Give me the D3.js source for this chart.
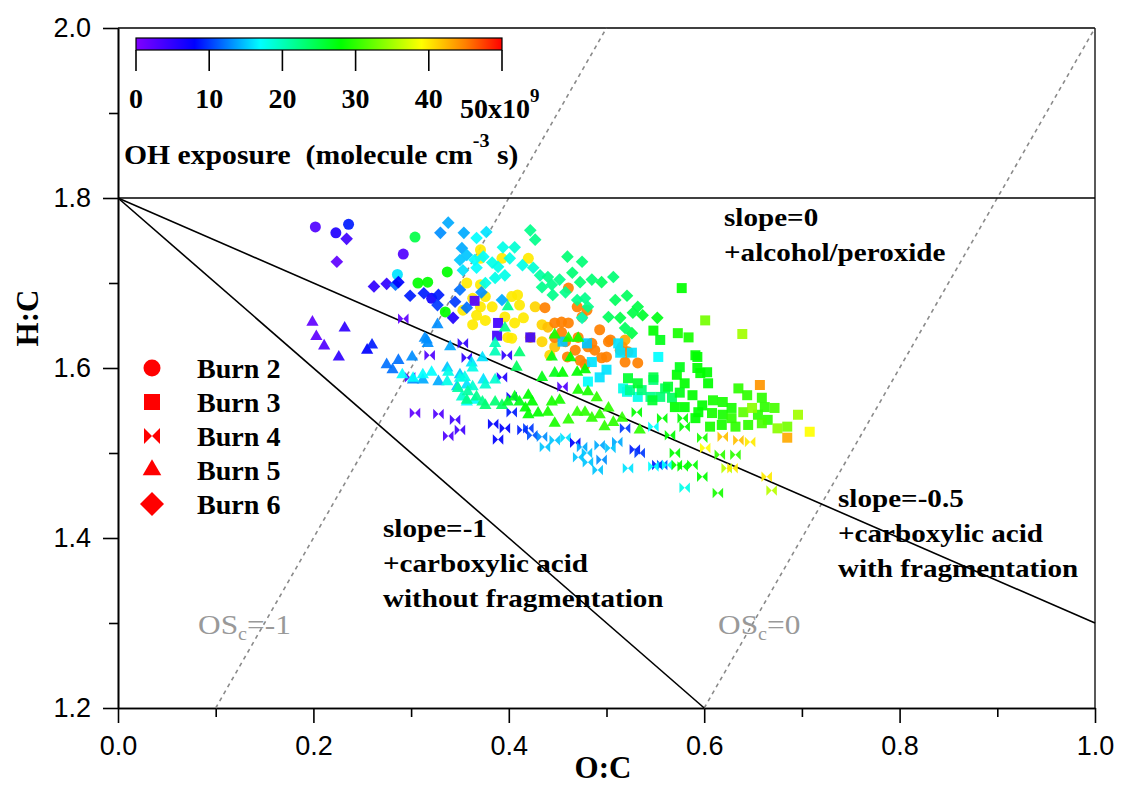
<!DOCTYPE html>
<html>
<head>
<meta charset="utf-8">
<script src="https://cdn.jsdelivr.net/npm/d3@7"></script>
<style>
body { margin: 0; background: #fff; }
text { font-family: "Liberation Serif", "Times New Roman", serif; }
.axis text { font-family: "Liberation Sans", Arial, sans-serif; font-size: 27px; fill: #000; }
.axis path, .axis line { stroke: #000; stroke-width: 1.6px; }
</style>
</head>
<body>
<svg id="chart" width="1123" height="787"></svg>
<script>
// axis ticks
const ocTicks = [0, 0.2, 0.4, 0.6, 0.8, 1.0]
const ocMinor = [0.1, 0.3, 0.5, 0.7, 0.9]
const hcTicks = [1.2, 1.4, 1.6, 1.8, 2.0]
const hcMinor = [1.3, 1.5, 1.7, 1.9]

// colour bar (OH exposure, 1e9 molecule cm-3 s)
const ohTicks = [0, 10, 20, 30, 40]
const ohStops = [0, 8, 17, 28, 39, 45, 50]
const ohColors = ["#8000ff", "#0000ff", "#00ffff", "#00ff00", "#ffff00", "#ff8000", "#ff0000"]

const burnNames = ["Burn 2", "Burn 3", "Burn 4", "Burn 5", "Burn 6"]

// [O:C, H:C, OH exposure]
const burn2 = [
  [0.202,1.766,3],[0.223,1.759,6],[0.236,1.769,9],[0.292,1.734,3],[0.304,1.754,25],[0.286,1.710,16],
  [0.307,1.700,28],[0.317,1.701,28],[0.337,1.713,28],[0.335,1.666,28],[0.321,1.682,7],
  [0.371,1.739,40],[0.371,1.729,40],[0.393,1.729,40],[0.420,1.729,40],[0.357,1.700,40],[0.371,1.698,40],
  [0.363,1.682,40],[0.376,1.684,40],[0.371,1.672,40],[0.367,1.662,40],[0.363,1.651,40],[0.376,1.656,40],
  [0.403,1.684,40],[0.411,1.674,40],[0.396,1.660,40],[0.406,1.653,40],[0.427,1.672,41],[0.434,1.651,41],
  [0.415,1.659,40],[0.399,1.636,40],[0.403,1.635,40],[0.422,1.636,41],[0.434,1.631,41],[0.383,1.672,40],
  [0.409,1.686,40],[0.353,1.668,40],[0.440,1.648,42],[0.447,1.625,42],[0.442,1.615,41],
  [0.437,1.671,45],[0.447,1.653,45],[0.454,1.654,45],[0.461,1.653,45],[0.475,1.660,45],[0.480,1.668,45],
  [0.470,1.672,45],[0.454,1.642,45],[0.447,1.636,45],[0.458,1.631,45],[0.471,1.636,45],[0.468,1.621,45],
  [0.481,1.625,45],[0.461,1.694,45],[0.460,1.613,45],[0.493,1.645,45],[0.502,1.631,45],[0.488,1.621,45],
  [0.495,1.612,45],[0.519,1.633,43],[0.516,1.625,44],[0.519,1.607,45],[0.532,1.606,45],[0.504,1.633,45],
  [0.514,1.621,45],[0.500,1.613,45],[0.522,1.619,45],[0.485,1.629,45],[0.473,1.609,45],[0.478,1.604,45]
]
const burn3 = [
  [0.365,1.679,3],[0.389,1.653,4],[0.388,1.638,4],[0.422,1.636,4],
  [0.455,1.631,15],[0.480,1.629,15],[0.512,1.629,16],[0.526,1.618,16],[0.553,1.613,17],[0.493,1.589,16],
  [0.500,1.598,16],[0.521,1.572,18],[0.532,1.566,18],[0.485,1.607,16],[0.481,1.584,17],[0.517,1.576,18],
  [0.514,1.618,16],
  [0.524,1.574,22],[0.536,1.574,23],[0.548,1.586,23],[0.555,1.566,23],[0.545,1.566,22],[0.560,1.576,24],
  [0.567,1.565,24],[0.522,1.588,26],[0.532,1.582,26],
  [0.577,1.694,28],[0.548,1.644,28],[0.573,1.641,29],[0.584,1.636,29],[0.591,1.615,28],[0.572,1.592,28],
  [0.580,1.582,28],[0.575,1.571,27],[0.593,1.600,28],[0.603,1.595,28],[0.604,1.582,28],[0.588,1.568,28],
  [0.570,1.554,28],[0.580,1.554,28],[0.598,1.556,28],[0.609,1.562,29],[0.619,1.560,29],[0.628,1.553,29],
  [0.635,1.576,30],[0.644,1.568,30],[0.659,1.565,30],[0.662,1.554,30],[0.672,1.553,31],[0.608,1.547,29],
  [0.619,1.545,29],[0.628,1.541,30],[0.640,1.548,32],[0.655,1.545,30],[0.665,1.539,30],[0.659,1.535,31],
  [0.645,1.533,30],[0.632,1.531,30],[0.618,1.533,29],[0.606,1.531,29],[0.591,1.541,28],[0.594,1.548,28],
  [0.547,1.562,26],[0.555,1.633,27],[0.593,1.613,28],[0.596,1.594,28],[0.575,1.601,27],[0.563,1.578,26],
  [0.548,1.589,25],
  [0.601,1.656,33],[0.639,1.640,35],[0.696,1.545,35],[0.649,1.553,34],[0.675,1.529,34],[0.685,1.531,33],
  [0.657,1.580,44],[0.685,1.518,43],[0.708,1.525,39]
]
const burn4 = [
  [0.292,1.658,2],[0.299,1.589,3],[0.304,1.547,2],[0.328,1.546,3],[0.345,1.539,4],[0.350,1.527,4],
  [0.338,1.520,3],[0.319,1.615,3],
  [0.353,1.629,5],[0.357,1.612,5],[0.398,1.615,5],[0.393,1.589,6],[0.384,1.534,8],[0.396,1.529,8],
  [0.403,1.548,9],[0.389,1.516,8],[0.414,1.527,9],[0.420,1.529,10],[0.424,1.521,11],[0.434,1.519,13],
  [0.437,1.507,15],[0.447,1.515,15],[0.458,1.518,16],[0.468,1.512,8],[0.475,1.507,14],[0.471,1.495,15],
  [0.481,1.489,15],[0.480,1.500,15],[0.455,1.578,3],[0.403,1.566,7],
  [0.519,1.529,10],[0.548,1.531,17],[0.529,1.504,9],[0.534,1.500,10],[0.552,1.486,9],[0.557,1.486,11],
  [0.562,1.486,17],[0.522,1.482,16],[0.511,1.513,14],[0.504,1.506,15],[0.493,1.509,14],[0.495,1.492,13],
  [0.491,1.480,15],[0.548,1.484,17],[0.580,1.459,18],
  [0.531,1.548,28],[0.557,1.541,28],[0.578,1.541,28],[0.580,1.531,28],[0.565,1.521,28],[0.598,1.518,29],
  [0.570,1.500,28],[0.572,1.486,28],[0.578,1.484,28],[0.588,1.486,28],[0.598,1.472,28],[0.616,1.498,30],
  [0.632,1.498,30],[0.614,1.453,29],
  [0.619,1.519,42],[0.635,1.515,42],[0.647,1.513,40],[0.601,1.506,39],[0.623,1.482,36],[0.629,1.482,40],
  [0.664,1.472,40],[0.669,1.456,36]
]
const burn5 = [
  [0.199,1.654,2],[0.232,1.647,5],[0.203,1.637,2],[0.211,1.626,3],[0.226,1.613,5],[0.255,1.621,8],[0.260,1.627,9],
  [0.275,1.604,12],[0.281,1.598,12],[0.287,1.609,12],[0.301,1.613,13],[0.302,1.586,13],[0.312,1.586,14],
  [0.316,1.633,13],[0.327,1.651,13],[0.328,1.584,14],[0.337,1.600,15],[0.340,1.625,14],[0.350,1.592,15],
  [0.347,1.578,15],[0.357,1.580,16],[0.362,1.606,16],[0.373,1.612,16],[0.374,1.586,16],[0.365,1.562,17],
  [0.357,1.560,17],[0.314,1.635,13],[0.317,1.629,13],
  [0.291,1.592,17],[0.302,1.588,17],[0.312,1.592,17],[0.321,1.595,17],[0.338,1.595,18],[0.337,1.584,18],
  [0.350,1.588,18],[0.355,1.589,18],[0.363,1.600,18],[0.352,1.566,19],[0.363,1.578,19],[0.376,1.580,19],
  [0.386,1.586,19],[0.386,1.629,20],[0.386,1.619,20],
  [0.348,1.576,21],[0.358,1.572,21],[0.357,1.562,22],[0.367,1.566,22],[0.373,1.560,22],[0.376,1.556,23],
  [0.386,1.560,23],[0.393,1.556,24],[0.396,1.647,22],[0.399,1.672,22],[0.411,1.618,23],[0.408,1.601,24],
  [0.399,1.560,26],[0.406,1.566,27],[0.411,1.560,27],[0.420,1.568,28],[0.424,1.560,28],[0.417,1.553,28],
  [0.420,1.545,28],[0.430,1.547,28],[0.440,1.548,29],[0.444,1.560,29],[0.452,1.562,29],[0.447,1.535,29],
  [0.461,1.539,30],[0.470,1.548,30],[0.478,1.548,30],[0.485,1.541,30],[0.434,1.589,27],[0.447,1.594,27],
  [0.455,1.594,28],[0.470,1.595,28],[0.478,1.598,28],[0.471,1.574,29],[0.481,1.572,29],[0.447,1.639,29],
  [0.461,1.635,29],[0.471,1.635,29],[0.444,1.613,27],[0.463,1.612,28],[0.490,1.565,30],[0.502,1.553,30],
  [0.493,1.545,30],[0.507,1.536,30],[0.498,1.531,30],[0.516,1.541,30],[0.534,1.527,30]
]
const burn6 = [
  [0.234,1.752,4],[0.224,1.725,2],[0.262,1.696,5],[0.275,1.699,5],[0.284,1.698,12],[0.287,1.701,8],
  [0.299,1.685,9],[0.313,1.688,9],[0.328,1.686,9],[0.327,1.674,10],[0.345,1.678,10],[0.357,1.671,12],
  [0.343,1.659,6],[0.350,1.692,12],[0.372,1.689,13],[0.393,1.680,14],
  [0.338,1.771,14],[0.330,1.759,13],[0.354,1.759,14],[0.377,1.760,16],[0.367,1.753,17],[0.394,1.742,18],
  [0.406,1.742,19],[0.352,1.741,14],[0.357,1.733,15],[0.350,1.727,15],[0.365,1.727,17],[0.374,1.731,17],
  [0.383,1.724,18],[0.389,1.719,18],[0.401,1.729,18],[0.414,1.721,18],[0.425,1.718,19],[0.386,1.706,18],
  [0.396,1.709,18],[0.376,1.700,18],[0.367,1.718,17],[0.353,1.715,16],
  [0.422,1.762,22],[0.427,1.751,22],[0.432,1.709,21],[0.440,1.707,22],[0.452,1.704,22],[0.460,1.731,23],
  [0.475,1.725,23],[0.465,1.712,23],[0.473,1.701,23],[0.485,1.704,23],[0.444,1.698,22],[0.445,1.686,22],
  [0.458,1.689,22],[0.470,1.680,22],[0.478,1.682,22],[0.481,1.672,22],[0.475,1.659,20],[0.434,1.695,22],
  [0.507,1.707,23],[0.495,1.701,24],[0.521,1.685,24],[0.532,1.672,25],[0.509,1.680,24],[0.502,1.660,24],
  [0.514,1.659,25],[0.527,1.665,25],[0.537,1.662,26],[0.552,1.659,27],[0.526,1.641,25],[0.519,1.647,24]
]

const svg = d3.select("#chart")

const x = d3.scaleLinear().domain([0, 1]).range([118, 1095])
const y = d3.scaleLinear().domain([1.2, 2.0]).range([708, 28])
const color = d3.scaleLinear().domain(ohStops).range(ohColors)

// bowtie and square-diamond markers
const bowtie = {
  draw(ctx, size) {
    const s = Math.sqrt(size) / 2
    ctx.moveTo(-s, -s); ctx.lineTo(0, 0); ctx.lineTo(-s, s); ctx.closePath()
    ctx.moveTo(s, -s); ctx.lineTo(0, 0); ctx.lineTo(s, s); ctx.closePath()
  }
}
const diamond = {
  draw(ctx, size) {
    const h = Math.sqrt(size / 2)
    ctx.moveTo(0, -h); ctx.lineTo(h, 0); ctx.lineTo(0, h); ctx.lineTo(-h, 0); ctx.closePath()
  }
}
const shapes = [d3.symbolCircle, d3.symbolSquare, bowtie, d3.symbolTriangle, diamond]
const markSize = [95, 100, 110, 65, 80]
const legendSize = [227, 256, 256, 150, 288]

// stretched serif text, the figure's lettering is wider than the font
function label(g, px, py, sx, size, txt) {
  return g.append("text").attr("transform", `translate(${px},${py}) scale(${sx},1)`)
    .attr("font-size", size).attr("font-weight", "bold").text(txt)
}

// axes
svg.append("g").attr("class", "axis")
  .attr("transform", `translate(0,${y(1.2)})`)
  .call(d3.axisBottom(x).tickValues(ocTicks).tickFormat(d3.format(".1f")).tickSize(15).tickPadding(13).tickSizeOuter(0))
svg.append("g").attr("class", "axis")
  .attr("transform", `translate(0,${y(1.2)})`)
  .call(d3.axisBottom(x).tickValues(ocMinor).tickFormat("").tickSize(9).tickSizeOuter(0))

svg.append("g").attr("class", "axis")
  .attr("transform", `translate(${x(0)},0)`)
  .call(d3.axisLeft(y).tickValues(hcTicks).tickFormat(d3.format(".1f")).tickSize(15).tickPadding(12).tickSizeOuter(0))
svg.append("g").attr("class", "axis")
  .attr("transform", `translate(${x(0)},0)`)
  .call(d3.axisLeft(y).tickValues(hcMinor).tickFormat("").tickSize(9).tickSizeOuter(0))

// frame top / right
svg.append("line").attr("x1", x(0)).attr("x2", x(1)).attr("y1", y(2)).attr("y2", y(2))
  .attr("stroke", "#000").attr("stroke-width", 1.3)
svg.append("line").attr("x1", x(1)).attr("x2", x(1)).attr("y1", y(2)).attr("y2", y(1.2))
  .attr("stroke", "#000").attr("stroke-width", 1.3)

// axis titles
svg.append("text").attr("x", 603).attr("y", 778).attr("text-anchor", "middle")
  .attr("font-size", 31).attr("font-weight", "bold").text("O:C")
svg.append("text").attr("transform", "translate(38,318) rotate(-90)").attr("text-anchor", "middle")
  .attr("font-size", 31).attr("font-weight", "bold").text("H:C")

// OSc dashed lines: H:C = 2 O:C - OSc
const osValues = [-1, 0]
svg.selectAll(".os").data(osValues).enter().append("line")
  .attr("x1", d => x((1.2 + d) / 2)).attr("y1", y(1.2))
  .attr("x2", d => x((2.0 + d) / 2)).attr("y2", y(2.0))
  .attr("stroke", "#8a8a8a").attr("stroke-width", 1.6).attr("stroke-dasharray", "4,4")

// slope lines from (0, 1.8)
const slopes = [0, -1, -0.5]
svg.selectAll(".slope").data(slopes).enter().append("line")
  .attr("x1", x(0)).attr("y1", y(1.8))
  .attr("x2", d => x(d == -1 ? 0.6 : 1)).attr("y2", d => y(d == -1 ? 1.2 : 1.8 + d))
  .attr("stroke", "#000").attr("stroke-width", 1.6)

// points
const burns = [burn2, burn3, burn4, burn5, burn6]
burns.forEach((pts, i) => {
  svg.append("g").selectAll("path").data(pts).enter().append("path")
    .attr("transform", d => `translate(${x(d[0])},${y(d[1])})`)
    .attr("d", d3.symbol().type(shapes[i]).size(markSize[i]))
    .attr("fill", d => color(d[2]))
    .attr("fill-opacity", 0.92)
})

// legend
const legend = svg.append("g")
burnNames.forEach((name, i) => {
  const ly = 368 + i * 34
  legend.append("path").attr("transform", `translate(152,${ly})`)
    .attr("d", d3.symbol().type(shapes[i]).size(legendSize[i])).attr("fill", "#ff0000")
  label(legend, 197, ly + 10, 1.04, 27, name)
})

// annotations
const notes = [
  { x: 724, y: 226, lines: ["slope=0", "+alcohol/peroxide"] },
  { x: 383, y: 537, lines: ["slope=-1", "+carboxylic acid", "without fragmentation"] },
  { x: 838, y: 507, lines: ["slope=-0.5", "+carboxylic acid", "with fragmentation"] }
]
notes.forEach(n => {
  n.lines.forEach((t, j) => label(svg, n.x, n.y + j * 35, 1.12, 26, t))
})
const osLabels = [{ x: 198, v: "-1" }, { x: 718, v: "0" }]
osLabels.forEach(o => {
  const t = svg.append("text").attr("transform", `translate(${o.x},634) scale(1.12,1)`)
    .attr("font-family", "Liberation Sans, Arial, sans-serif").attr("font-size", 28).attr("fill", "#999")
  t.append("tspan").text("OS")
  t.append("tspan").attr("font-size", 18).attr("dy", 6).text("c")
  t.append("tspan").attr("dy", -6).text("=" + o.v)
})

// colour bar
const cx = d3.scaleLinear().domain([0, 50]).range([136, 502])
const grad = svg.append("defs").append("linearGradient").attr("id", "ohgrad")
grad.selectAll("stop").data(ohStops).enter().append("stop")
  .attr("offset", d => (d / 50 * 100) + "%")
  .attr("stop-color", (d, i) => ohColors[i])
svg.append("rect").attr("x", cx(0)).attr("y", 38).attr("width", cx(50) - cx(0)).attr("height", 12)
  .attr("fill", "url(#ohgrad)").attr("stroke", "#000").attr("stroke-width", 1.2)
svg.selectAll(".cbtick").data(ohTicks.concat([50])).enter().append("line")
  .attr("x1", d => cx(d)).attr("x2", d => cx(d)).attr("y1", 50).attr("y2", 71)
  .attr("stroke", "#000").attr("stroke-width", 1.6)
svg.selectAll(".cblab").data(ohTicks).enter().append("text")
  .attr("x", d => cx(d)).attr("y", 108).attr("text-anchor", "middle")
  .attr("font-size", 28).attr("font-weight", "bold").text(d => d)
const last = svg.append("text").attr("x", 460).attr("y", 118).attr("font-size", 28).attr("font-weight", "bold")
last.append("tspan").text("50x10")
last.append("tspan").attr("dy", -16).attr("font-size", 19).text("9")
const ohTitle = svg.append("text").attr("transform", "translate(124,164) scale(1.06,1)").attr("font-size", 28)
  .attr("font-weight", "bold").style("white-space", "pre")
ohTitle.append("tspan").text("OH exposure  (molecule cm")
ohTitle.append("tspan").attr("dy", -17).attr("font-size", 19).text("-3")
ohTitle.append("tspan").attr("dy", 17).text(" s)")
</script>
</body>
</html>
